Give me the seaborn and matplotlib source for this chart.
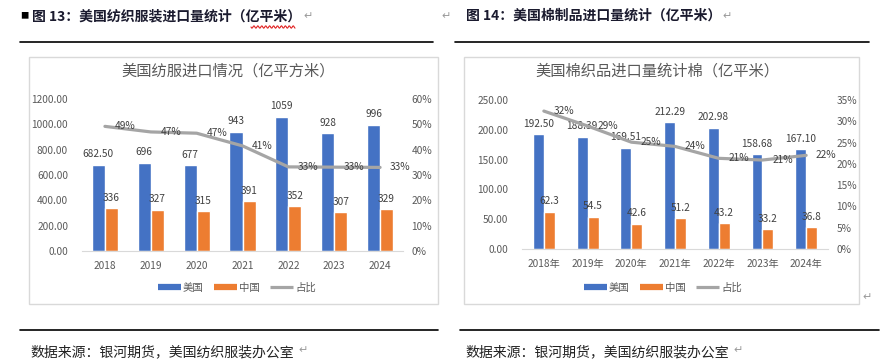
import numpy as np
import pandas as pd
import seaborn as sns
from matplotlib import pyplot as plt
from matplotlib.lines import Line2D
from matplotlib.patches import Rectangle
from matplotlib.ticker import FuncFormatter

# ---- data: left chart (textile & apparel imports) ----
years_left = ["2018", "2019", "2020", "2021", "2022", "2023", "2024"]
us_left = [682.50, 696, 677, 943, 1059, 928, 996]
cn_left = [336, 327, 315, 391, 352, 307, 329]
ratio_left = [0.492, 0.470, 0.465, 0.415, 0.332, 0.331, 0.330]
us_left_labels = ["682.50", "696", "677", "943", "1059", "928", "996"]
cn_left_labels = ["336", "327", "315", "391", "352", "307", "329"]
ratio_left_labels = ["49%", "47%", "47%", "41%", "33%", "33%", "33%"]

# ---- data: right chart (cotton products imports) ----
years_right = ["2018年", "2019年", "2020年", "2021年", "2022年", "2023年", "2024年"]
us_right = [192.50, 188.39, 169.51, 212.29, 202.98, 158.68, 167.10]
cn_right = [62.3, 54.5, 42.6, 51.2, 43.2, 33.2, 36.8]
ratio_right = [0.324, 0.289, 0.251, 0.241, 0.213, 0.209, 0.220]
us_right_labels = ["192.50", "188.39", "169.51", "212.29", "202.98", "158.68", "167.10"]
cn_right_labels = ["62.3", "54.5", "42.6", "51.2", "43.2", "33.2", "36.8"]
ratio_right_labels = ["32%", "29%", "25%", "24%", "21%", "21%", "22%"]

BLUE = "#4472C4"
ORANGE = "#ED7D31"
GRAY = "#A5A5A5"
TXT = "#595959"
LBL = "#404040"
W, H = 896, 363

sns.set_style("white")
plt.rcParams["font.family"] = ["Noto Sans CJK SC", "DejaVu Sans"]


def fx(px):
    return px / W


def fy(py):
    return 1 - py / H


def draw_panel(fig, rect, years, us, cn, ratio, us_lab, cn_lab, r_lab,
               ymax, ystep, rmax, rstep, width, title, title_x, legend_x):
    ax = fig.add_axes(rect)
    df = pd.DataFrame({
        "year": years * 2,
        "value": us + cn,
        "country": ["美国"] * len(years) + ["中国"] * len(years),
    })
    sns.barplot(data=df, x="year", y="value", hue="country",
                palette={"美国": BLUE, "中国": ORANGE}, saturation=1,
                width=width, gap=0, ax=ax, legend=False)
    ax.bar_label(ax.containers[0], labels=us_lab, padding=4, fontsize=7.3, color=LBL)
    ax.bar_label(ax.containers[1], labels=cn_lab, padding=4, fontsize=7.3, color=LBL)
    ax.set_ylim(0, ymax)
    ax.set_yticks(np.arange(0, ymax + 1e-9, ystep))
    ax.yaxis.set_major_formatter(FuncFormatter(lambda v, p: f"{v:.2f}"))
    ax.set_xlabel("")
    ax.set_ylabel("")
    for s in ["top", "left", "right"]:
        ax.spines[s].set_visible(False)
    ax.spines["bottom"].set_color("#D9D9D9")
    ax.tick_params(axis="both", length=0, labelsize=7.3, labelcolor=TXT)
    ax.tick_params(axis="y", pad=10)
    ax.tick_params(axis="x", pad=7)

    ax2 = ax.twinx()
    xs = np.arange(len(years))
    sns.lineplot(x=xs, y=ratio, ax=ax2, color=GRAY, linewidth=2.3)
    for x, r, t in zip(xs, ratio, r_lab):
        ax2.annotate(t, (x, r), xytext=(7, 0), textcoords="offset points",
                     va="center", ha="left", fontsize=7.3, color=LBL)
    ax2.set_ylim(0, rmax)
    ax2.set_yticks(np.arange(0, rmax + 1e-9, rstep))
    ax2.yaxis.set_major_formatter(FuncFormatter(lambda v, p: f"{v * 100:.0f}%"))
    for s in ax2.spines.values():
        s.set_visible(False)
    ax2.tick_params(axis="y", length=0, labelsize=7.3, labelcolor=TXT, pad=6)
    ax.set_xlim(-0.5, len(years) - 0.5)

    fig.text(fx(title_x), fy(71), title, ha="center", va="center",
             fontsize=11, color=TXT)
    handles = [Line2D([], [], color=BLUE, lw=4.5, solid_capstyle="butt"),
               Line2D([], [], color=ORANGE, lw=4.5, solid_capstyle="butt"),
               Line2D([], [], color=GRAY, lw=2.3, solid_capstyle="butt")]
    fig.legend(handles, ["美国", "中国", "占比"], loc="center",
               bbox_to_anchor=(fx(legend_x), fy(288)), ncol=3, frameon=False,
               fontsize=7.5, labelcolor=TXT, handlelength=2.2, handletextpad=0.2,
               columnspacing=1.0)


fig = plt.figure(figsize=(W / 100, H / 100), dpi=100)

# chart boxes
fig.add_artist(Rectangle((fx(29), fy(304)), fx(438 - 29), (304 - 57) / H,
                         transform=fig.transFigure, fill=False,
                         edgecolor="#D9D9D9", lw=1))
fig.add_artist(Rectangle((fx(464), fy(304)), fx(859 - 464), (304 - 57) / H,
                         transform=fig.transFigure, fill=False,
                         edgecolor="#D9D9D9", lw=1))

draw_panel(fig, [fx(82), fy(251), fx(403 - 82), (251 - 99) / H],
           years_left, us_left, cn_left, ratio_left,
           us_left_labels, cn_left_labels, ratio_left_labels,
           1200, 200, 0.60, 0.10, 0.57, "美国纺服进口情况（亿平方米）", 228, 237)
draw_panel(fig, [fx(522), fy(249), fx(828 - 522), (249 - 100) / H],
           years_right, us_right, cn_right, ratio_right,
           us_right_labels, cn_right_labels, ratio_right_labels,
           250, 50, 0.35, 0.05, 0.5, "美国棉织品进口量统计棉（亿平米）", 657, 663)

# document headers
fig.text(fx(20), fy(16), "■", fontsize=6, color="black", va="center")
fig.text(fx(32), fy(16), "图 13：美国纺织服装进口量统计（亿平米）",
         fontsize=10, fontweight="bold", color="#1a1a2e", va="center")
fig.text(fx(303), fy(16), "↵", fontsize=8, color="#9a9a9a", va="center")
fig.text(fx(441), fy(16), "↵", fontsize=8, color="#9a9a9a", va="center")
fig.text(fx(466), fy(16), "图 14：美国棉制品进口量统计（亿平米）",
         fontsize=10, fontweight="bold", color="#1a1a2e", va="center")
fig.text(fx(722), fy(16), "↵", fontsize=8, color="#9a9a9a", va="center")

# red spell-check squiggle
sx = np.linspace(251, 295, 60)
sy = 27 + 1.2 * np.sin((sx - 251) * 1.6)
fig.add_artist(Line2D(fx(sx), fy(sy), transform=fig.transFigure,
                      color="#E02020", lw=0.8))

# header / footer rules
for x0, x1, y in [(20, 433, 42), (455, 869, 42), (20, 438, 330), (460, 879, 330)]:
    fig.add_artist(Line2D([fx(x0), fx(x1)], [fy(y), fy(y)],
                          transform=fig.transFigure, color="black", lw=1.2))

# footers
src = "数据来源：银河期货，美国纺织服装办公室"
fig.text(fx(30), fy(352), src, fontsize=10, color="#222222", va="center")
fig.text(fx(465), fy(352), src, fontsize=10, color="#222222", va="center")
fig.text(fx(298), fy(350), "↵", fontsize=8, color="#9a9a9a", va="center")
fig.text(fx(733), fy(350), "↵", fontsize=8, color="#9a9a9a", va="center")
fig.text(fx(862), fy(297), "↵", fontsize=8, color="#9a9a9a", va="center")

fig.savefig("out.png", dpi=100)
